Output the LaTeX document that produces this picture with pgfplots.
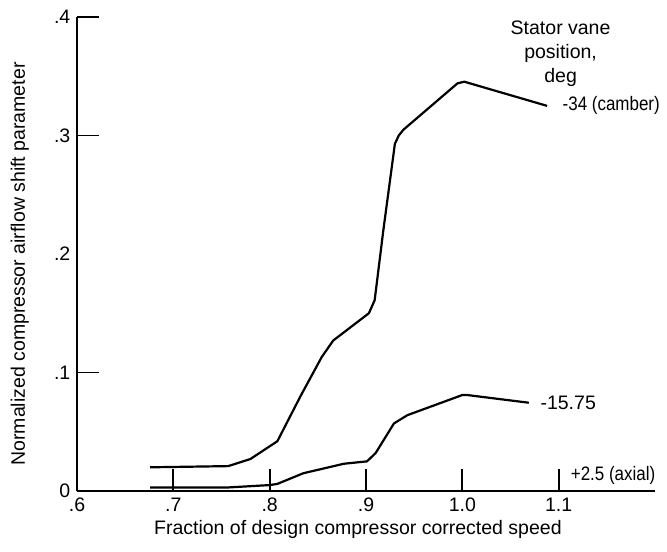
\documentclass[border=0pt]{standalone}
\usepackage{fontspec}
\setmainfont{Liberation Sans}
\newfontfamily\narrowf{Liberation Sans}[FakeStretch=0.87]
\usepackage{pgfplots}
\pgfplotsset{compat=1.18}
\newcommand{\cf}{\fontsize{19.5bp}{24bp}\selectfont}
\begin{document}
\cf
\begin{tikzpicture}
\path[use as bounding box] (-77bp,-61bp) rectangle (590bp,491bp);
\begin{axis}[
 at={(0,0)}, anchor=south west, scale only axis,
 width=578bp, height=474bp,
 xmin=0.6, xmax=1.2, ymin=0, ymax=0.4,
 axis x line=bottom, axis y line=left,
 axis line style={-, line width=1.8bp, black},
 tick align=inside, major tick length=22bp,
 tick style={line width=1.8bp, black},
 xtick={0.6,0.7,0.8,0.9,1.0,1.1},
 xticklabels={.6,.7,.8,.9,1.0,1.1},
 ytick={0.1,0.3,0.4}, yticklabels={.1,.3,.4},
 extra y ticks={0,0.2}, extra y tick labels={0,.2},
 extra y tick style={major tick length=0pt},
 tick label style={font=\cf},
 label style={font=\cf},
 xlabel={Fraction of design compressor corrected speed},
 ylabel={Normalized compressor airflow shift parameter},
 xlabel style={at={(axis description cs:0.486,-0.082)}, anchor=center},
 ylabel style={at={(axis description cs:-0.099,0.479)}, anchor=center},
 clip=false,
]
% -34 (camber)
\addplot[black, line width=2.2bp, line join=round, no marks] coordinates {(0.676,0.020) (0.757,0.021) (0.780,0.027) (0.808,0.042) (0.832,0.080) (0.854,0.113) (0.866,0.127) (0.903,0.150) (0.909,0.161) (0.918,0.220) (0.930,0.293) (0.934,0.300) (0.939,0.305) (0.995,0.344) (1.002,0.3454) (1.088,0.325)};
% -15.75
\addplot[black, line width=2.2bp, line join=round, no marks] coordinates {(0.676,0.003) (0.757,0.003) (0.800,0.005) (0.808,0.006) (0.835,0.015) (0.877,0.023) (0.901,0.025) (0.910,0.032) (0.929,0.057) (0.943,0.064) (1.000,0.081) (1.005,0.081) (1.069,0.0745)};
% +2.5 (axial)
\addplot[black, line width=2.2bp, no marks] coordinates {(0.676,0) (1.1,0)};
\node[inner sep=0, align=center, font=\cf] at (axis cs:1.102,0.369) {Stator vane\\position,\\deg};
\node[inner sep=0, anchor=west, font=\cf\narrowf] at (axis cs:1.104,0.325) {-34 (camber)};
\node[inner sep=0, anchor=west, font=\cf] at (axis cs:1.081,0.074) {-15.75};
\node[inner sep=0, anchor=west, font=\cf\narrowf] at (axis cs:1.1125,0.0135) {+2.5 (axial)};
\end{axis}
\end{tikzpicture}
\end{document}
